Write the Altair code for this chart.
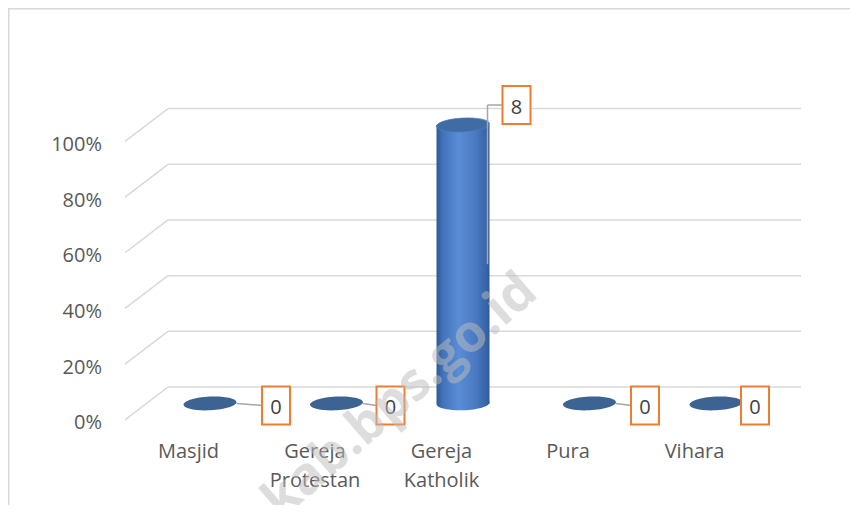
import altair as alt
import pandas as pd

# ---------------- data ----------------
categories = ["Masjid", "Gereja Protestan", "Gereja Katholik", "Pura", "Vihara"]
counts = [0, 0, 8, 0, 0]
tick_values = [0.0, 0.2, 0.4, 0.6, 0.8, 1.0]

# ---------------- layout constants (pixels) ----------------
label_nudge_px = [66, 54, 53.5, 55.5, 39]   # data-label box offset to the right of each column
PX_PER_CAT = 126.5
PX_PER_UNIT = 278.4
DEPTH = 16.4
FONT = "Open Sans"

df = pd.DataFrame({
    "cat": categories,
    "count": counts,
    "idx": list(range(len(categories))),
    "ldx": label_nudge_px,
})
gdf = pd.DataFrame({"v": tick_values})

xs = alt.Scale(domain=[0, 4], range=[202, 708], nice=False, zero=False)
ys = alt.Scale(domain=[0, 1], range=[395.4, 117], nice=False, zero=False)

d_unit = DEPTH / PX_PER_UNIT

base = (
    alt.Chart(df)
    .transform_joinaggregate(total="sum(count)")
    .transform_calculate(
        pct="datum.count / datum.total",
        z="0",
        half="datum.count / datum.total / 2",
        bx1=f"datum.idx - {26.5 / PX_PER_CAT}",
        bx2=f"datum.idx + {26.5 / PX_PER_CAT}",
        lead_x=f"datum.idx + {24.5 / PX_PER_CAT}",
        lab_x=f"datum.idx + datum.ldx / {PX_PER_CAT}",
        box_left=f"datum.idx + (datum.ldx - 14) / {PX_PER_CAT}",
        lab_v=f"datum.count / datum.total + (datum.count > 0 ? 20 : -2) / {PX_PER_UNIT}",
    )
)

# --- outer frame (top and left edges visible in the reference) ---
frame_top = alt.Chart(gdf.head(1)).mark_rule(color="#D9D9D9", strokeWidth=1.5).encode(
    x=alt.value(0), x2=alt.value(842), y=alt.value(0.75)
)
frame_left = alt.Chart(gdf.head(1)).mark_rule(color="#D9D9D9", strokeWidth=1.5).encode(
    x=alt.value(0.75), y=alt.value(0), y2=alt.value(497)
)

# --- gridlines (back wall + diagonal side edge) ---
grid_h = (
    alt.Chart(gdf)
    .transform_calculate(back=f"datum.v + {d_unit}")
    .mark_rule(color="#D9D9D9", strokeWidth=1.5)
    .encode(x=alt.value(160), x2=alt.value(793), y=alt.Y("back:Q", scale=ys, axis=None))
)
grid_d = (
    alt.Chart(gdf)
    .transform_calculate(back=f"datum.v + {d_unit}", front=f"datum.v - {d_unit}")
    .mark_rule(color="#D9D9D9", strokeWidth=1.5)
    .encode(
        x=alt.value(117), x2=alt.value(160),
        y=alt.Y("front:Q", scale=ys, axis=None), y2=alt.Y2("back:Q"),
    )
)
ylabels = (
    alt.Chart(gdf)
    .mark_text(align="right", baseline="alphabetic", dy=26, font=FONT, fontSize=20, color="#595959")
    .encode(x=alt.value(94), y=alt.Y("v:Q", scale=ys, axis=None), text=alt.Text("v:Q", format=".0%"))
)

# --- cylinders ---
grad = alt.Gradient(
    gradient="linear", x1=0, x2=1, y1=0, y2=0,
    stops=[
        alt.GradientStop(offset=0.0, color="#2D5A98"),
        alt.GradientStop(offset=0.12, color="#4273BA"),
        alt.GradientStop(offset=0.42, color="#5A8DD6"),
        alt.GradientStop(offset=0.75, color="#4878C0"),
        alt.GradientStop(offset=0.95, color="#3763A6"),
        alt.GradientStop(offset=1.0, color="#2E5791"),
    ],
)

k = 0.26
c = round(k * 0.5523, 4)
ELLIPSE = (f"M-1,0 C-1,-{c} -0.5523,-{k} 0,-{k} C0.5523,-{k} 1,-{c} 1,0 "
           f"C1,{c} 0.5523,{k} 0,{k} C-0.5523,{k} -1,{c} -1,0 Z")
BOX = "M-0.737,-1 L0.737,-1 L0.737,1 L-0.737,1 Z"

pos = base.transform_filter("datum.count > 0")
zero = base.transform_filter("datum.count == 0")

bottom_ell = pos.mark_point(
    shape=ELLIPSE, size=53 ** 2, filled=True, fill=grad, strokeWidth=0, opacity=1, angle=358
).encode(x=alt.X("idx:Q", scale=xs, axis=None), y=alt.Y("z:Q", scale=ys, axis=None))

body = pos.mark_rect(fill=grad, strokeWidth=0).encode(
    x=alt.X("bx1:Q", scale=xs, axis=None), x2="bx2:Q",
    y=alt.Y("pct:Q", scale=ys, axis=None), y2="z:Q",
)

top_ell_pos = pos.mark_point(
    shape=ELLIPSE, size=53 ** 2, filled=True, fill="#406CA6", stroke="#4A7BC0", strokeWidth=0.8,
    opacity=1, angle=357
).encode(x=alt.X("idx:Q", scale=xs, axis=None), y=alt.Y("pct:Q", scale=ys, axis=None))

top_ell_zero = zero.mark_point(
    shape=ELLIPSE, size=53 ** 2, filled=True, fill="#3C6391", strokeWidth=0, opacity=1, angle=357
).encode(x=alt.X("idx:Q", scale=xs, axis=None), y=alt.Y("pct:Q", scale=ys, axis=None))

# --- leader lines ---
lead_zero = zero.mark_rule(color="#A6A6A6", strokeWidth=1.5).encode(
    x=alt.X("bx2:Q", scale=xs, axis=None), x2="box_left:Q",
    y=alt.Y("z:Q", scale=ys, axis=None), y2="lab_v:Q",
)
lead_v = pos.mark_rule(color="#A6A6A6", strokeWidth=1.5).encode(
    x=alt.X("lead_x:Q", scale=xs, axis=None),
    y=alt.Y("half:Q", scale=ys, axis=None), y2="lab_v:Q",
)
lead_h = pos.mark_rule(color="#A6A6A6", strokeWidth=1.5).encode(
    x=alt.X("lead_x:Q", scale=xs, axis=None), x2="box_left:Q",
    y=alt.Y("lab_v:Q", scale=ys, axis=None),
)

# --- data labels ---
boxes = base.mark_point(
    shape=BOX, size=38 ** 2, filled=True, fill="white", stroke="#ED7D31", strokeWidth=2, opacity=1
).encode(x=alt.X("lab_x:Q", scale=xs, axis=None), y=alt.Y("lab_v:Q", scale=ys, axis=None))

vals = base.mark_text(
    align="center", baseline="alphabetic", dy=8.5, font=FONT, fontSize=20, color="#404040"
).encode(
    x=alt.X("lab_x:Q", scale=xs, axis=None), y=alt.Y("lab_v:Q", scale=ys, axis=None),
    text="count:Q",
)

# --- category labels ---
cat_labels = base.mark_text(
    align="center", baseline="alphabetic", dx=-21.5, dy=55, lineBreak=" ", lineHeight=28.5,
    font=FONT, fontSize=20, color="#595959",
).encode(x=alt.X("idx:Q", scale=xs, axis=None), y=alt.Y("z:Q", scale=ys, axis=None), text="cat:N")

# --- watermark ---
wm = alt.Chart(pd.DataFrame({"t": ["kab.bps.go.id"]})).mark_text(
    align="center", baseline="middle", angle=319, font=FONT, fontSize=52, fontWeight="bold",
    color="#BDBDBD", opacity=0.5,
).encode(x=alt.value(392), y=alt.value(388), text="t:N")

chart = (
    alt.layer(frame_top, frame_left, grid_h, grid_d, ylabels, bottom_ell, body, top_ell_pos,
              top_ell_zero, lead_zero, lead_v, lead_h, boxes, vals, cat_labels, wm)
    .properties(width=842, height=497, padding=0, autosize=alt.AutoSizeParams(type="none"))
    .configure_view(stroke=None)
)

chart.save("out.html", embed_options={"renderer": "svg", "actions": False})
